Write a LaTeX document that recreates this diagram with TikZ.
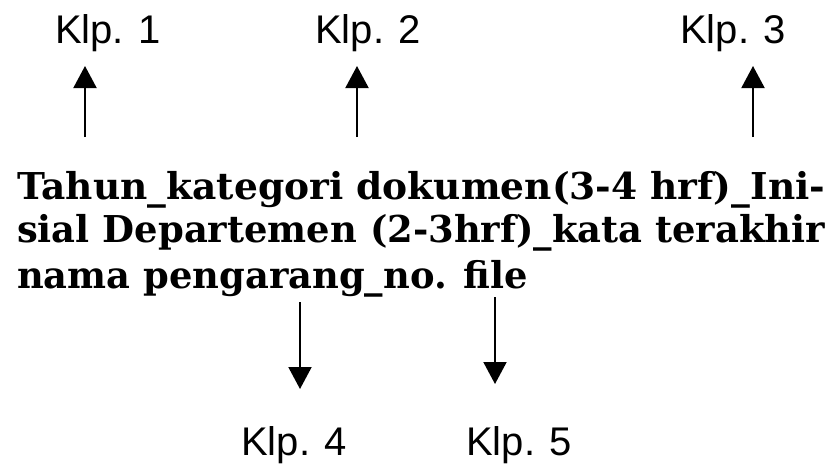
\documentclass[tikz,border=0pt]{standalone}
\usepackage{fontspec}
\setmainfont{DejaVu Serif}
\newfontfamily\labelfont{Liberation Sans}
\usetikzlibrary{arrows.meta}
\newlength\fitlen
\newcommand\fitto[2]{\settowidth\fitlen{#2}\pgfmathsetmacro\fitsx{#1/\fitlen}\scalebox{\fitsx}[1]{#2}}
\begin{document}
\begin{tikzpicture}[x=1pt,y=-1pt,
  klp/.style={anchor=base west,inner sep=0pt,font=\labelfont\fontsize{40}{40}\selectfont},
  body/.style={anchor=base west,inner sep=0pt,font=\fontsize{37}{44}\selectfont\bfseries},
  arr/.style={line width=2pt,-{Triangle[width=23pt,length=22pt]}}]
\useasboundingbox (0,0) rectangle (836,464);
\node[klp] (k1) at (55,43) {Klp. 1};
\node[klp] (k2) at (315,43) {Klp. 2};
\node[klp] (k3) at (680,43) {Klp. 3};
\node[klp] (k4) at (241,455) {Klp. 4};
\node[klp] (k5) at (466,455) {Klp. 5};
\node[body] (l1) at (17,199) {\fitto{808}{Tahun\_kategori dokumen(3-4 hrf)\_Ini-}};
\node[body] (l2) at (17,242) {\fitto{808}{sial Departemen (2-3hrf)\_kata terakhir}};
\node[body] (l3) at (17,288) {\fitto{511}{nama pengarang\_no. file}};
\coordinate (s1) at (85,137); \coordinate (e1) at (85,66);
\coordinate (s2) at (357,137); \coordinate (e2) at (357,66);
\coordinate (s3) at (753,137); \coordinate (e3) at (753,66);
\coordinate (s4) at (300,302); \coordinate (e4) at (300,389);
\coordinate (s5) at (495,297); \coordinate (e5) at (495,384);
\draw[arr] (s1) -- (e1);
\draw[arr] (s2) -- (e2);
\draw[arr] (s3) -- (e3);
\draw[arr] (s4) -- (e4);
\draw[arr] (s5) -- (e5);
\end{tikzpicture}
\end{document}
